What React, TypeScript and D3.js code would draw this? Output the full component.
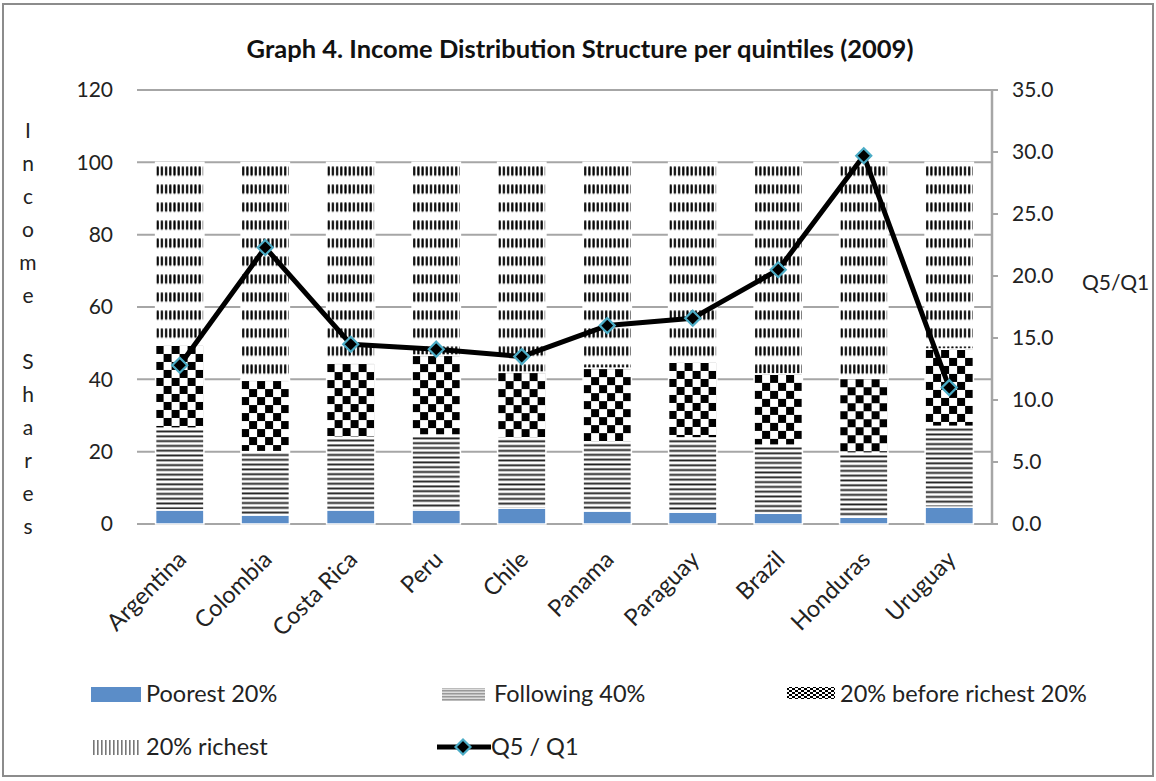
import React from "react";
import * as d3 from "d3";

const countries = ["Argentina", "Colombia", "Costa Rica", "Peru", "Chile", "Panama", "Paraguay", "Brazil", "Honduras", "Uruguay"];
const poorest20 = [3.9, 2.5, 3.9, 3.9, 4.4, 3.6, 3.3, 3.0, 1.9, 4.7];
const following40 = [22.6, 17.5, 20.1, 20.7, 19.4, 19.1, 20.5, 18.8, 17.7, 22.3];
const beforeRichest20 = [23.0, 19.8, 20.5, 22.1, 18.2, 20.4, 21.0, 19.7, 20.7, 21.4];
const richest20 = [50.5, 60.2, 55.5, 53.3, 58.0, 56.9, 55.2, 58.5, 59.7, 51.6];
const q5q1 = [12.8, 22.3, 14.5, 14.1, 13.5, 16.0, 16.6, 20.5, 29.7, 11.0];
const leftTicks = [0, 20, 40, 60, 80, 100, 120];
const rightTicks = [0, 5, 10, 15, 20, 25, 30, 35];
const yTitleLetters = ["I", "n", "c", "o", "m", "e", " ", "S", "h", "a", "r", "e", "s"];

const FONT = "Lato, 'Open Sans', sans-serif";

function PatternContent({ kind }: { kind: string }) {
  if (kind === "f")
    return (
      <>
        <rect x="0" y="0" width="8" height="4.8" fill="#fff" />
        <rect x="0" y="1.4" width="8" height="1.9" fill="#222" />
      </>
    );
  if (kind === "b")
    return (
      <>
        <rect x="0" y="0" width="16" height="16" fill="#fff" />
        <rect x="0" y="0" width="8" height="8" fill="#000" />
        <rect x="8" y="8" width="8" height="8" fill="#000" />
      </>
    );
  return (
    <>
      <rect x="0" y="0" width="4.2" height="18" fill="#fff" />
      <rect x="1" y="3" width="2.2" height="9.5" rx="1.1" fill="#000" />
    </>
  );
}

const patSize: Record<string, [number, number]> = { f: [8, 4.8], b: [16, 16], r: [4.2, 18] };

export default function App() {
  const W = 1156, H = 781;
  const left = 137, right = 992, top = 90, bottom = 524;
  const x = d3.scaleBand<string>().domain(countries).range([left, right]).padding(0);
  const yL = d3.scaleLinear().domain([0, 120]).range([bottom, top]);
  const yR = d3.scaleLinear().domain([0, 35]).range([bottom, top]);
  const barW = x.bandwidth() * 0.565;

  const series = [
    { key: "p", vals: poorest20 },
    { key: "f", vals: following40 },
    { key: "b", vals: beforeRichest20 },
    { key: "r", vals: richest20 },
  ];

  const segs: any[] = [];
  countries.forEach((c, i) => {
    let base = 0;
    series.forEach((s) => {
      const v = s.vals[i];
      const bx = (x(c) as number) + (x.bandwidth() - barW) / 2;
      segs.push({ c, kind: s.key, bx, yt: yL(base + v), yb: yL(base), id: `pat-${i}-${s.key}` });
      base += v;
    });
  });

  const line = d3
    .line<number>()
    .x((_, i) => (x(countries[i]) as number) + x.bandwidth() / 2)
    .y((d) => yR(d));

  const diamond = (cx: number, cy: number, r: number) =>
    `M${cx},${cy - r}L${cx + r},${cy}L${cx},${cy + r}L${cx - r},${cy}Z`;

  return (
    <svg width={W} height={H} style={{ position: "absolute", left: 0, top: 0, background: "#fff" }} fontFamily={FONT}>
      <defs>
        {segs
          .filter((s) => s.kind !== "p")
          .map((s) => (
            <pattern
              key={s.id}
              id={s.id}
              patternUnits="userSpaceOnUse"
              x={s.bx}
              y={s.yt + 1}
              width={patSize[s.kind][0]}
              height={patSize[s.kind][1]}
            >
              <PatternContent kind={s.kind} />
            </pattern>
          ))}
        <pattern id="lg-h" patternUnits="userSpaceOnUse" width="6" height="3">
          <rect x="0" y="0" width="6" height="3" fill="#ddd" />
          <rect x="0" y="0" width="6" height="1.5" fill="#999" />
        </pattern>
        <pattern id="lg-c" patternUnits="userSpaceOnUse" width="6" height="4">
          <rect x="0" y="0" width="6" height="4" fill="#fff" />
          <rect x="0" y="0" width="3" height="2" fill="#000" />
          <rect x="3" y="2" width="3" height="2" fill="#000" />
        </pattern>
        <pattern id="lg-v" patternUnits="userSpaceOnUse" width="4" height="6">
          <rect x="0" y="0" width="4" height="6" fill="#fff" />
          <rect x="1" y="0" width="1.6" height="6" fill="#777" />
        </pattern>
      </defs>

      <rect x={3} y={4} width={1150} height={772} fill="#fff" stroke="#8c8c8c" strokeWidth={2} />

      <text x={580} y={58} textAnchor="middle" fontWeight="bold" fontSize={25.5} fill="#111">
        Graph 4. Income Distribution Structure per quintiles (2009)
      </text>

      {leftTicks.map((t) => (
        <line key={"g" + t} x1={left} x2={right} y1={yL(t)} y2={yL(t)} stroke="#a6a6a6" strokeWidth={2} />
      ))}

      {leftTicks.map((t) => (
        <text key={"l" + t} x={113} y={yL(t)} dy="0.35em" textAnchor="end" fontSize={21} fill="#222">
          {t}
        </text>
      ))}

      {yTitleLetters.map((ch, i) => (
        <text key={"yt" + i} x={28} y={131 + 33 * i} dy="0.35em" textAnchor="middle" fontSize={21} fill="#222">
          {ch}
        </text>
      ))}

      <line x1={right} x2={right} y1={top} y2={bottom} stroke="#a6a6a6" strokeWidth={2.5} />
      {rightTicks.map((t) => (
        <g key={"r" + t}>
          <line x1={right} x2={right + 6} y1={yR(t)} y2={yR(t)} stroke="#a6a6a6" strokeWidth={2} />
          <text x={1012} y={yR(t)} dy="0.35em" fontSize={21} fill="#222">
            {t.toFixed(1)}
          </text>
        </g>
      ))}
      <text x={1082} y={283} dy="0.35em" fontSize={21} fill="#222">Q5/Q1</text>

      {segs.map((s) => (
        <rect
          key={s.id}
          x={s.bx}
          y={s.yt}
          width={barW}
          height={s.yb - s.yt}
          fill={s.kind === "p" ? "#5B8DC8" : `url(#${s.id})`}
          stroke="#fff"
          strokeWidth={1.5}
        />
      ))}

      <path d={line(q5q1) as string} fill="none" stroke="#000" strokeWidth={5} strokeLinejoin="round" />
      {q5q1.map((v, i) => (
        <path
          key={"m" + i}
          d={diamond((x(countries[i]) as number) + x.bandwidth() / 2, yR(v), 7.5)}
          fill="#000"
          stroke="#4BACC6"
          strokeWidth={2.2}
        />
      ))}

      {countries.map((c) => (
        <text
          key={"c" + c}
          transform={`translate(${(x(c) as number) + x.bandwidth() / 2 + 8},${561}) rotate(-45)`}
          textAnchor="end"
          fontSize={23.5}
          fill="#222"
        >
          {c}
        </text>
      ))}

      {/* legend */}
      <rect x={91} y={687} width={50} height={15} fill="#5B8DC8" />
      <text x={146} y={694} dy="0.36em" fontSize={23.5} fill="#222">Poorest 20%</text>
      <rect x={442} y={688} width={43} height={13} fill="url(#lg-h)" />
      <text x={494} y={694} dy="0.36em" fontSize={23.5} fill="#222">Following 40%</text>
      <rect x={787} y={687} width={48} height={12} fill="url(#lg-c)" />
      <text x={840} y={694} dy="0.36em" fontSize={23.5} fill="#222">20% before richest 20%</text>
      <rect x={92} y={740} width={49} height={15} fill="url(#lg-v)" />
      <text x={146} y={747} dy="0.36em" fontSize={23.5} fill="#222">20% richest</text>
      <line x1={437} x2={491} y1={747} y2={747} stroke="#000" strokeWidth={5} />
      <path d={diamond(463, 747, 7.5)} fill="#000" stroke="#4BACC6" strokeWidth={2.2} />
      <text x={491} y={747} dy="0.36em" fontSize={23.5} fill="#222">Q5 / Q1</text>
    </svg>
  );
}
